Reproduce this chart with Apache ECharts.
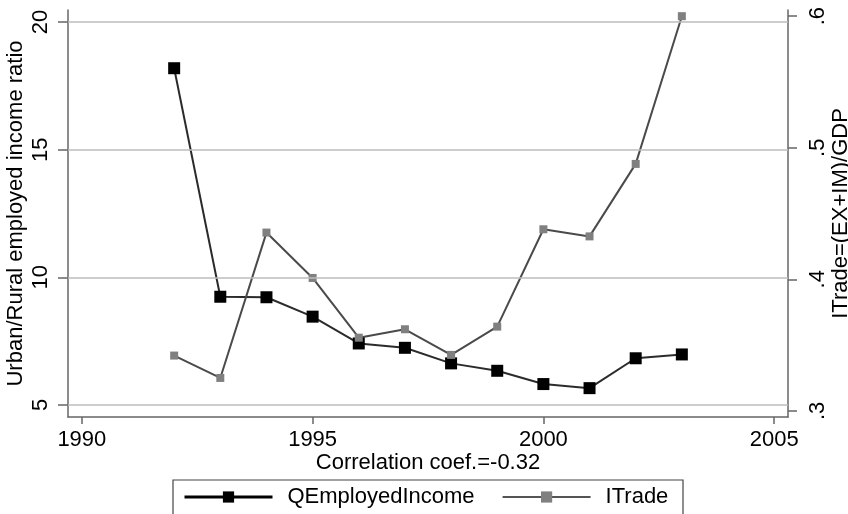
<!DOCTYPE html>
<html>
<head>
<meta charset="utf-8">
<script src="https://cdn.jsdelivr.net/npm/echarts@6/dist/echarts.min.js"></script>
<style>html,body{margin:0;padding:0;background:#fff;}#c{width:848px;height:514px;}</style>
</head>
<body>
<div id="c"></div>
<script>
const years = [1992, 1993, 1994, 1995, 1996, 1997, 1998, 1999, 2000, 2001, 2002, 2003];
const qEmployedIncome = [18.19, 9.24, 9.22, 8.46, 7.41, 7.24, 6.63, 6.34, 5.82, 5.66, 6.83, 6.98];
const iTrade = [0.342, 0.325, 0.4355, 0.401, 0.3556, 0.362, 0.3425, 0.364, 0.438, 0.4326, 0.4877, 0.600];
const xTicks = [1990, 1995, 2000, 2005];
const leftTicks = [5, 10, 15, 20];
const rightTicks = [0.3, 0.4, 0.5, 0.6];
const rightTickLabels = ['.3', '.4', '.5', '.6'];

const FONT = 'Liberation Sans, Arial, sans-serif';
const FS = 22;
const chart = echarts.init(document.getElementById('c'));
const axisLineStyle = { color: '#666', width: 1.5 };
chart.setOption({
  animation: false,
  backgroundColor: '#fff',
  grid: { left: 68, right: 60, top: 10, bottom: 97, outerBoundsMode: 'none', containLabel: false },
  xAxis: {
    type: 'value', min: 1989.7, max: 2005.3,
    name: 'Correlation coef.=-0.32', nameLocation: 'middle', nameGap: 35, nameMoveOverlap: false,
    nameTextStyle: { fontFamily: FONT, fontSize: FS, color: '#000' },
    axisLine: { show: true, lineStyle: axisLineStyle },
    axisTick: { show: true, length: 7, customValues: xTicks, lineStyle: axisLineStyle },
    axisLabel: { customValues: xTicks, margin: 12, fontFamily: FONT, fontSize: FS, color: '#000', formatter: v => String(Math.round(v)) },
    splitLine: { show: false }
  },
  yAxis: [{
    type: 'value', min: 4.53, max: 20.47, position: 'left',
    name: 'Urban/Rural employed income ratio', nameLocation: 'middle', nameGap: 41, nameMoveOverlap: false,
    nameTextStyle: { fontFamily: FONT, fontSize: FS, color: '#000' },
    axisLine: { show: true, lineStyle: axisLineStyle },
    axisTick: { show: true, length: 10, customValues: leftTicks, lineStyle: axisLineStyle },
    axisLabel: { customValues: leftTicks, rotate: 90, margin: 16, align: 'center', verticalAlign: 'bottom', alignMinLabel: 'center', alignMaxLabel: 'center', fontFamily: FONT, fontSize: FS, color: '#000' },
    splitLine: { show: false }
  }, {
    type: 'value', min: 0.2953, max: 0.6047, position: 'right',
    name: 'ITrade=(EX+IM)/GDP', nameLocation: 'middle', nameGap: 42, nameRotate: 90, nameMoveOverlap: false,
    nameTextStyle: { fontFamily: FONT, fontSize: FS, color: '#000' },
    axisLine: { show: true, lineStyle: axisLineStyle },
    axisTick: { show: true, length: 9, customValues: rightTicks, lineStyle: axisLineStyle },
    axisLabel: {
      customValues: rightTicks, rotate: 90, margin: 19, align: 'center', verticalAlign: 'top',
      alignMinLabel: 'center', alignMaxLabel: 'center',
      fontFamily: FONT, fontSize: FS, color: '#000',
      formatter: v => { const i = rightTicks.findIndex(t => Math.abs(t - v) < 1e-6); return i >= 0 ? rightTickLabels[i] : ''; }
    },
    splitLine: { show: false }
  }],
  legend: {
    left: 183, top: 486, padding: 0, itemGap: 27, itemWidth: 88, itemHeight: 14,
    textStyle: { fontFamily: FONT, fontSize: FS, color: '#000', padding: [0, 0, 0, 10] },
    data: [
      { name: 'QEmployedIncome', lineStyle: { width: 3, color: '#000' } },
      { name: 'ITrade', lineStyle: { width: 2, color: '#555' } }
    ]
  },
  graphic: [{
    type: 'rect', shape: { x: 173, y: 480, width: 510, height: 45 },
    style: { fill: 'none', stroke: '#444', lineWidth: 1.2 }
  }],
  series: [{
    name: 'gridlines', type: 'line', yAxisIndex: 0, data: [], z: 1, silent: true,
    markLine: {
      silent: true, symbol: 'none', label: { show: false }, animation: false,
      lineStyle: { color: '#bdbdbd', width: 1.5, type: 'solid' },
      data: leftTicks.map(v => ({ yAxis: v }))
    }
  }, {
    name: 'QEmployedIncome', type: 'line', yAxisIndex: 0, z: 3,
    data: years.map((y, i) => [y, qEmployedIncome[i]]),
    symbol: 'rect', symbolSize: 12, showAllSymbol: true,
    lineStyle: { color: '#2b2b2b', width: 2 },
    itemStyle: { color: '#000' }
  }, {
    name: 'ITrade', type: 'line', yAxisIndex: 1, z: 3,
    data: years.map((y, i) => [y, iTrade[i]]),
    symbol: 'rect', symbolSize: 8, showAllSymbol: true,
    lineStyle: { color: '#4a4a4a', width: 2 },
    itemStyle: { color: '#808080' }
  }]
});
</script>
</body>
</html>
